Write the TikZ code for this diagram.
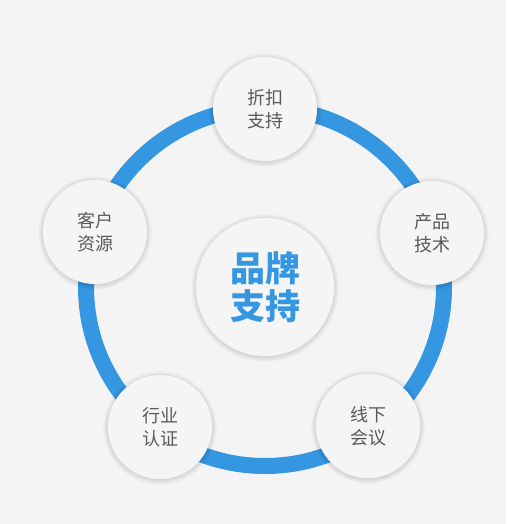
\documentclass[tikz,border=0pt]{standalone}
\usepackage{fontspec}
\newfontfamily\cjk{Noto Sans CJK SC}
\usetikzlibrary{backgrounds}
\definecolor{ringblue}{HTML}{3597E2}
\definecolor{pagegray}{HTML}{F4F4F4}
\definecolor{cardgray}{HTML}{F5F5F5}
\definecolor{textgray}{HTML}{595959}

\begin{document}
\begin{tikzpicture}[x=1pt,y=-1pt,
  item/.style={circle,minimum size=104pt,inner sep=0pt,fill=cardgray,align=center,text=textgray,
    font=\cjk\fontsize{18}{23}\selectfont},
  hub/.style={item,minimum size=138pt,text=ringblue,font=\cjk\bfseries\fontsize{35}{38}\selectfont}]
\node[hub] (brand) at (265,287) {品牌\\支持};
\node[item] (discount) at (265,109) {折扣\\支持};
\node[item] (product) at (432,233) {产品\\技术};
\node[item] (meeting) at (368,426) {线下\\会议};
\node[item] (cert) at (160,427) {行业\\认证};
\node[item] (client) at (95,232) {客户\\资源};
\begin{scope}[on background layer]
\fill[pagegray] (0,0) rectangle (506,524);
\draw[ringblue,line width=16pt] (brand.center) circle (179);
% soft shadows
\foreach \n/\r in {brand/69,discount/52,product/52,meeting/52,cert/52,client/52}
  \foreach \k in {1,...,7}
    \fill[black,opacity=.016] ([yshift=-1pt]\n.center) circle (\r+\k*.7);
\end{scope}
\end{tikzpicture}
\end{document}
